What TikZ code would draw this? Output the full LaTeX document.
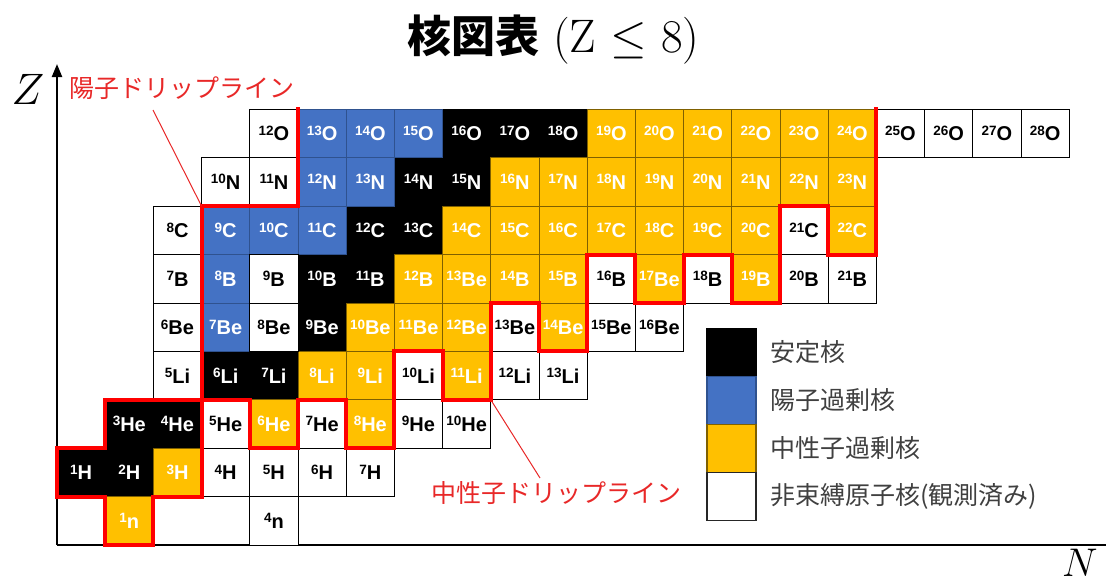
\RequirePackage{fix-cm}
\documentclass[tikz,border=0pt]{standalone}
\usepackage{fontspec}
\setsansfont{Liberation Sans}
\newfontfamily\cjk{Noto Sans CJK JP}
\usetikzlibrary{arrows.meta}
\definecolor{bluec}{HTML}{4472C4}
\definecolor{bluee}{HTML}{2F528F}
\definecolor{goldc}{HTML}{FFC000}
\definecolor{golde}{HTML}{7F6000}
\definecolor{dripred}{HTML}{FF0000}
\definecolor{labred}{HTML}{E82828}
\definecolor{legtext}{HTML}{404040}
\newcommand\nuc[2]{\raisebox{5.5pt}{\fontsize{13.5}{13.5}\selectfont #1}#2}
\begin{document}
\begin{tikzpicture}[x=1pt,y=-1pt,
  cell/.style={minimum width=48.2pt,minimum height=48.4pt,inner sep=0pt,outer sep=0pt,draw,line width=0.9pt,font=\sffamily\bfseries\fontsize{20}{20}\selectfont},
  wc/.style={cell,fill=white,draw=black,text=black},
  bk/.style={cell,fill=black,draw=black,text=white},
  bl/.style={cell,fill=bluec,draw=bluee,text=white},
  gd/.style={cell,fill=goldc,draw=golde,text=white},
  legbox/.style={minimum width=49pt,minimum height=48pt,inner sep=0pt,outer sep=0pt,line width=1.2pt},
  legtxt/.style={anchor=west,inner sep=0pt,text=legtext,font=\cjk\fontsize{25}{25}\selectfont},
  lab/.style={anchor=west,inner sep=0pt,text=labred,font=\cjk\fontsize{25}{25}\selectfont},
  drip/.style={draw=dripred,line width=4pt,line join=miter,line cap=rect},
  leader/.style={draw=labred,line width=1pt},
  axis/.style={draw=black,line width=2.2pt},
]
\useasboundingbox (0,0) rectangle (1106,587);

% title
\node[inner sep=0pt,anchor=west] (title) at (407,40) {{\cjk\bfseries\fontsize{44}{44}\selectfont 核図表}\hspace{14pt}{\fontsize{47}{47}\selectfont (Z $\le$ 8)}};

% axes
\coordinate (orig) at (57,545);
\coordinate (ztop) at (57,64);
\coordinate (nend) at (1106,545);
\draw[axis,-{Triangle[length=13pt,width=10pt]}] (orig) -- (ztop);
\draw[axis,line width=2.6pt] (orig) -- (nend);
\node[inner sep=0pt] (zlab) at (28,89) {\fontsize{44}{44}\selectfont $Z$};
\node[inner sep=0pt] (nlab) at (1080,563) {\fontsize{40}{40}\selectfont $N$};

\begin{scope}[shift={(57,545)},x=48.2pt,y=48.4pt]
  \foreach \n/\z/\e in {0/1/H,1/1/H,1/2/He,2/2/He,3/3/Li,4/3/Li,5/4/Be,5/5/B,6/5/B,6/6/C,7/6/C,7/7/N,8/7/N,8/8/O,9/8/O,10/8/O}{
    \pgfmathtruncatemacro\A{\n+\z}
    \node[bk] (c\n-\z) at (\n+0.5,\z+0.5) {\nuc{\A}{\e}};}
  \foreach \n/\z/\e in {3/4/Be,3/5/B,3/6/C,4/6/C,5/6/C,5/7/N,6/7/N,5/8/O,6/8/O,7/8/O}{
    \pgfmathtruncatemacro\A{\n+\z}
    \node[bl] (c\n-\z) at (\n+0.5,\z+0.5) {\nuc{\A}{\e}};}
  \foreach \n/\z/\e in {1/0/n,2/1/H,4/2/He,6/2/He,5/3/Li,6/3/Li,8/3/Li,6/4/Be,7/4/Be,8/4/Be,10/4/Be,7/5/B,8/5/Be,9/5/B,10/5/B,12/5/Be,14/5/B,8/6/C,9/6/C,10/6/C,11/6/C,12/6/C,13/6/C,14/6/C,16/6/C,9/7/N,10/7/N,11/7/N,12/7/N,13/7/N,14/7/N,15/7/N,16/7/N,11/8/O,12/8/O,13/8/O,14/8/O,15/8/O,16/8/O}{
    \pgfmathtruncatemacro\A{\n+\z}
    \node[gd] (c\n-\z) at (\n+0.5,\z+0.5) {\nuc{\A}{\e}};}
  \foreach \n/\z/\e in {4/0/n,3/1/H,4/1/H,5/1/H,6/1/H,3/2/He,5/2/He,7/2/He,8/2/He,2/3/Li,7/3/Li,9/3/Li,10/3/Li,2/4/Be,4/4/Be,9/4/Be,11/4/Be,12/4/Be,2/5/B,4/5/B,11/5/B,13/5/B,15/5/B,16/5/B,2/6/C,15/6/C,3/7/N,4/7/N,4/8/O,17/8/O,18/8/O,19/8/O,20/8/O}{
    \pgfmathtruncatemacro\A{\n+\z}
    \node[wc] (c\n-\z) at (\n+0.5,\z+0.5) {\nuc{\A}{\e}};}
  % drip lines
  \draw[drip] (5,9)--(5,7)--(3,7)--(3,3)--(1,3)--(1,2)--(0,2)--(0,1)--(1,1)--(1,0)--(2,0)--(2,1)--(3,1)--(3,3)--(4,3)--(4,2)--(5,2)--(5,3)--(6,3)--(6,2)--(7,2)--(7,4)--(8,4)--(8,3)--(9,3)--(9,5)--(10,5)--(10,4)--(11,4)--(11,6)--(12,6)--(12,5)--(13,5)--(13,6)--(14,6)--(14,5)--(15,5)--(15,7)--(16,7)--(16,6)--(17,6)--(17,9);
\end{scope}

% drip line labels
\node[lab] (pl) at (69,88) {陽子ドリップライン};
\node[lab] (nl) at (431,493) {中性子ドリップライン};
\coordinate (plfoot) at (153,110);
\coordinate (nlhead) at (540,478);
\draw[leader] (plfoot) -- (c3-6.north west);
\draw[leader] (c8-3.south east) -- (nlhead);

% legend
\node[legbox,fill=black,draw=black] (lg1) at (731.5,352.5) {};
\node[legbox,fill=bluec,draw=bluee] (lg2) at (731.5,400.5) {};
\node[legbox,fill=goldc,draw=golde] (lg3) at (731.5,448.5) {};
\node[legbox,fill=white,draw=black!85,line width=1.6pt] (lg4) at (731.5,496.5) {};
\node[legtxt] (lt1) at (770,352) {安定核};
\node[legtxt] (lt2) at (770,400) {陽子過剰核};
\node[legtxt] (lt3) at (770,448) {中性子過剰核};
\node[legtxt] (lt4) at (770,496) {非束縛原子核(観測済み)};
\end{tikzpicture}
\end{document}
